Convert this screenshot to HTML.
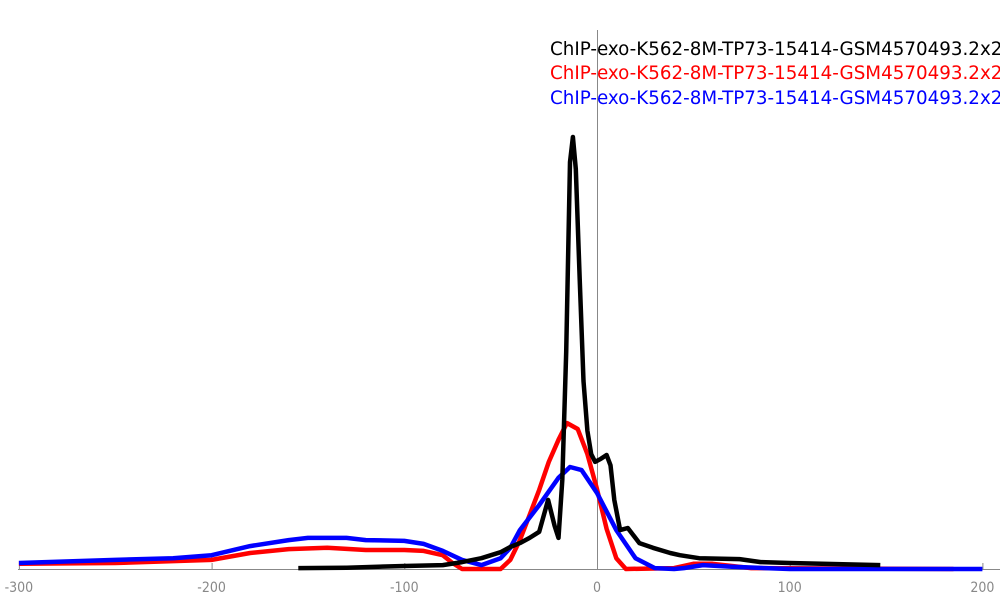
<!DOCTYPE html>
<html><head><meta charset="utf-8"><style>
html,body{margin:0;padding:0;background:#fff;width:1000px;height:600px;overflow:hidden}
svg{display:block}
</style></head><body>
<svg id="chart" width="1000" height="600">
<g id="axes"></g>
<g id="series"></g>
<g id="legend" font-family="'DejaVu Sans','Liberation Sans',sans-serif" font-size="18.3">
<text x="550" y="55" fill="#000">ChIP-exo-K562-8M-TP73-15414-GSM4570493.2x2</text>
<text x="550" y="79" fill="#f00">ChIP-exo-K562-8M-TP73-15414-GSM4570493.2x2</text>
<text x="550" y="104" fill="#00f">ChIP-exo-K562-8M-TP73-15414-GSM4570493.2x2</text>
</g>
</svg>
<script>
const xTicks=[-300,-200,-100,0,100,200];
const blackX=[-155,-130,-100,-80,-70,-60,-50,-45,-40,-35,-30,-25.4,-22,-20,-18,-16,-14,-12.5,-11,-9,-7,-5,-3,-1,2,5,7,9,12,16,22,29,38,43,53,74,85,100,147];
const blackY=[0.2,0.3,0.7,0.9,1.6,2.5,3.9,5.1,6.0,7.2,8.6,16.0,10,7.2,20.6,50.2,94.2,100,92.6,67.1,43.5,32,26.6,24.8,25.5,26.4,24,16,9,9.5,6,4.9,3.7,3.2,2.5,2.3,1.6,1.4,0.9];
const redX=[-300,-250,-200,-180,-160,-140,-120,-100,-90,-80,-75,-70,-50,-45,-40,-35,-30,-25,-20,-15.6,-10,-5,0,5,10,15,40,50,60,70,80,185];
const redY=[1.2,1.4,2.1,3.7,4.6,4.9,4.4,4.4,4.2,3.2,1.4,0,0,2.1,6.7,12.5,18.3,24.8,29.9,33.8,32.4,26.6,18.5,9.3,2.5,0,0.2,1.2,1.2,0.7,0.2,0];
const blueX=[-300,-250,-220,-200,-180,-160,-150,-130,-120,-100,-90,-80,-70,-60,-50,-45,-40,-30,-20,-14,-8,0,10,20,30,40,45,55,70,100,200];
const blueY=[1.4,2.1,2.5,3.2,5.3,6.7,7.2,7.2,6.7,6.5,5.8,4.2,2.1,0.9,2.5,4.9,9.0,14.8,21.1,23.6,22.9,17.6,9.0,2.5,0.2,0,0.2,0.9,0.5,0,0];

const NS="http://www.w3.org/2000/svg";
const xScale=v=>597+v*1.927;
const yScale=v=>569-v*4.32;
const axes=document.getElementById('axes');
const series=document.getElementById('series');

const base=document.createElementNS(NS,'line');
base.setAttribute('x1',18);base.setAttribute('x2',1000);base.setAttribute('y1',569.5);base.setAttribute('y2',569.5);
base.setAttribute('stroke','#888');base.setAttribute('stroke-width',1);


axes.appendChild(base);

const zl=document.createElementNS(NS,'line');
zl.setAttribute('x1',xScale(0)+0.5);zl.setAttribute('x2',xScale(0)+0.5);zl.setAttribute('y1',30);zl.setAttribute('y2',569);
zl.setAttribute('stroke','#888');zl.setAttribute('stroke-width',1);


axes.appendChild(zl);

xTicks.forEach(t=>{
  const tk=document.createElementNS(NS,'line');
  tk.setAttribute('x1',xScale(t)+0.5);tk.setAttribute('x2',xScale(t)+0.5);tk.setAttribute('y1',563);tk.setAttribute('y2',569);
  tk.setAttribute('stroke','#888');
  
  
  axes.appendChild(tk);
  const lb=document.createElementNS(NS,'text');
  lb.setAttribute('x',xScale(t));lb.setAttribute('y',592);
  lb.setAttribute('text-anchor','middle');lb.setAttribute('fill','#888');
  lb.setAttribute('font-family',"'DejaVu Sans Condensed','DejaVu Sans','Liberation Sans',sans-serif");
  lb.setAttribute('font-size','14');
  lb.textContent=String(t);
  
  
  axes.appendChild(lb);
});

function drawLine(xs,ys,color,name,w){
  const p=document.createElementNS(NS,'polyline');
  p.setAttribute('points',xs.map((x,i)=>xScale(x).toFixed(1)+','+yScale(ys[i]).toFixed(1)).join(' '));
  p.setAttribute('fill','none');p.setAttribute('stroke',color);p.setAttribute('stroke-width',w);
  p.setAttribute('stroke-linejoin','round');
  
  
  series.appendChild(p);
}
drawLine(redX,redY,'#f00','series-red',4.5);
drawLine(blueX,blueY,'#00f','series-blue',4.5);
drawLine(blackX,blackY,'#000','series-black',4.5);
</script>
</body></html>
